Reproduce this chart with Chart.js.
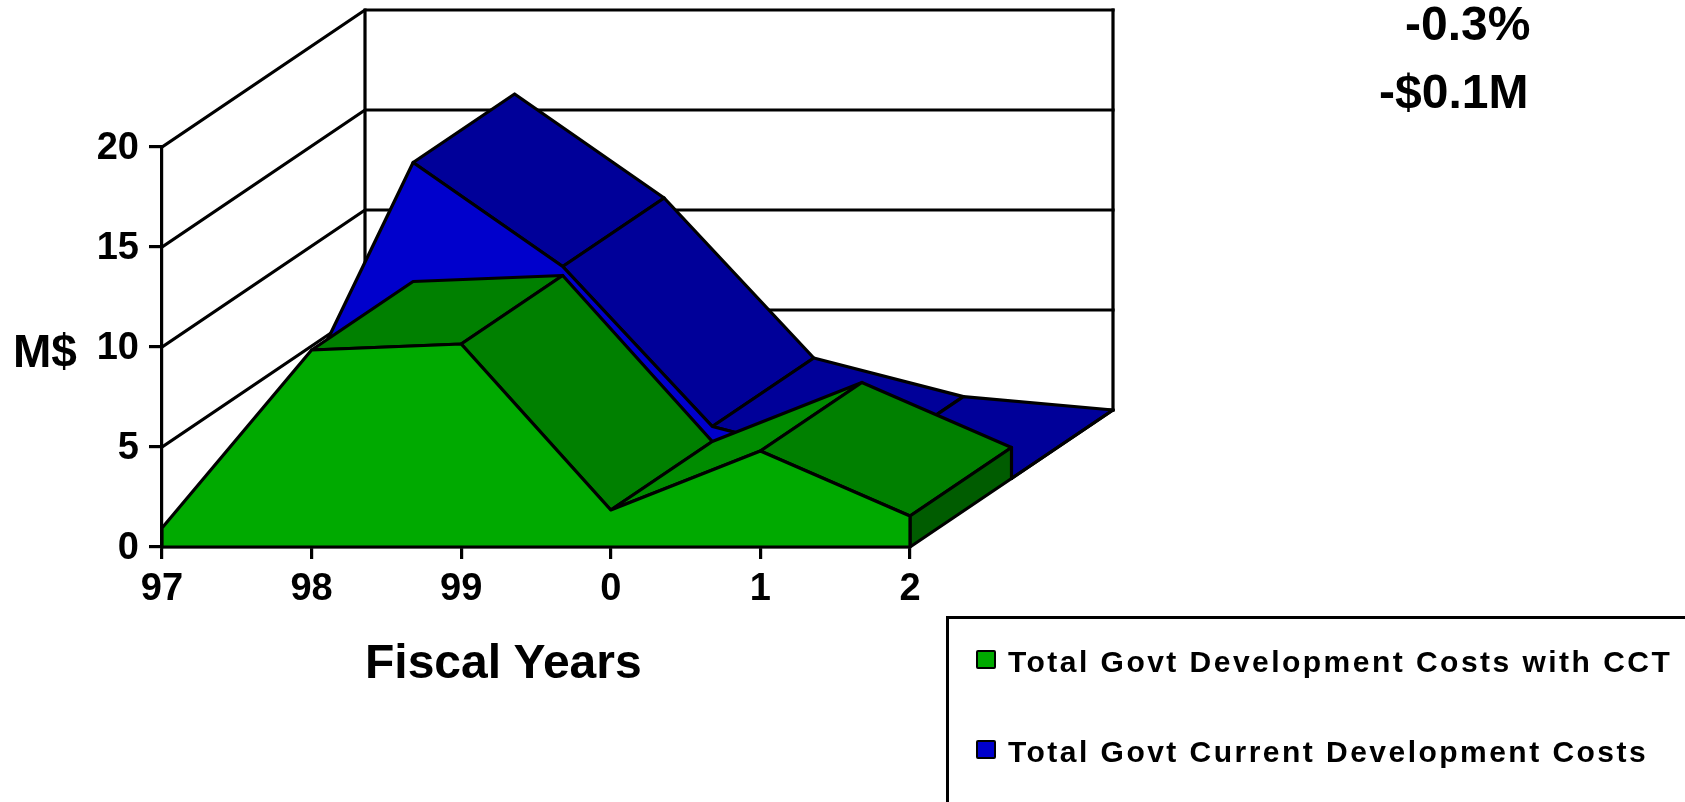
<!DOCTYPE html>
<html>
<head>
<meta charset="utf-8">
<title>Fiscal Years</title>
<script src="https://cdn.jsdelivr.net/npm/chart.js@4/dist/chart.umd.js"></script>
<style>
  html, body { margin: 0; background: #fff; }
  #page { position: relative; width: 1685px; height: 802px; overflow: hidden; font-family: "Liberation Sans", Arial, sans-serif; font-weight: bold; color: #000; }
  #page canvas { position: absolute; left: 0; top: 0; }
  .label { position: absolute; line-height: 1; white-space: nowrap; }
  #legend { position: absolute; left: 946px; top: 616px; width: 900px; height: 400px; border: 3px solid #000; box-sizing: border-box; }
  #legend .row { position: absolute; left: 27px; display: flex; align-items: center; font-size: 30px; line-height: 1; letter-spacing: 2.47px; white-space: nowrap; }
  #legend .swatch { width: 16px; height: 15px; border: 2.5px solid #000; border-radius: 2px; margin-right: 12px; transform: translateY(-3px); }
</style>
</head>
<body>
<div id="page">
  <canvas id="chart" width="1685" height="802"></canvas>
  <div class="label" style="left:13px;top:328px;font-size:46px">M$</div>
  <div class="label" style="left:365px;top:638px;font-size:48px">Fiscal Years</div>
  <div class="label" style="left:1405px;top:0px;font-size:48px">-0.3%</div>
  <div class="label" style="left:1379px;top:68px;font-size:48px">-$0.1M</div>
  <div id="legend"></div>
</div>
<script>
const years = ['97', '98', '99', '0', '1', '2'];
const cctCosts = [0.95, 9.85, 10.15, 1.85, 4.8, 1.55];
const currentCosts = [0.3, 15.8, 10.6, 2.6, 0.67, 0];
const yTicks = [0, 5, 10, 15, 20];

// how far the back of the box sits from the front plane, in pixels
const depthX = 203;
const depthY = 137;
const lineW = 3.2;

function polygon(ctx, pts, fill) {
  ctx.beginPath();
  pts.forEach((p, i) => i ? ctx.lineTo(p[0], p[1]) : ctx.moveTo(p[0], p[1]));
  ctx.closePath();
  ctx.fillStyle = fill;
  ctx.fill();
  ctx.stroke();
}

// line controller that draws the series as a slab of the 3D area chart
class Area3DController extends Chart.LineController {
  draw() {
    const ds = this.getDataset();
    const ctx = this.chart.ctx;
    const pts = this.getMeta().data;
    const base = this.getMeta().yScale.getPixelForValue(0);
    const at = (p, d, y) => [p.x + depthX * d, (y === undefined ? p.y : y) - depthY * d];

    ctx.save();
    ctx.strokeStyle = '#000';
    ctx.lineWidth = lineW;
    ctx.lineJoin = 'round';

    // top ribbons, skipped when a steep rise faces away from the viewer
    for (let i = 0; i < pts.length - 1; i++) {
      const ex = pts[i + 1].x - pts[i].x;
      const ey = pts[i + 1].y - pts[i].y;
      if (-ex * depthY * ds.depthSpan - ey * depthX * ds.depthSpan > 0) continue;
      const color = ey < -20 ? ds.riseColor : ds.topColor;
      polygon(ctx, [
        at(pts[i], ds.depthStart),
        at(pts[i + 1], ds.depthStart),
        at(pts[i + 1], ds.depthStart + ds.depthSpan),
        at(pts[i], ds.depthStart + ds.depthSpan)
      ], color);
    }

    // end cap
    const last = pts[pts.length - 1];
    polygon(ctx, [
      at(last, ds.depthStart),
      at(last, ds.depthStart + ds.depthSpan),
      at(last, ds.depthStart + ds.depthSpan, base),
      at(last, ds.depthStart, base)
    ], ds.sideColor);

    // front face
    const face = pts.map(p => at(p, ds.depthStart));
    face.push(at(last, ds.depthStart, base), at(pts[0], ds.depthStart, base));
    polygon(ctx, face, ds.backgroundColor);
    ctx.restore();
  }
}
Area3DController.id = 'area3d';
Area3DController.defaults = Chart.LineController.defaults;
Chart.register(Area3DController);

// side wall and back wall behind the series
const wallsPlugin = {
  id: 'walls',
  beforeDatasetsDraw(chart) {
    const { ctx, chartArea, scales } = chart;
    const backLeft = chartArea.left + depthX;
    const backRight = chartArea.right + depthX;
    ctx.save();
    ctx.strokeStyle = '#000';
    ctx.lineWidth = lineW;
    ctx.lineCap = 'square';
    yTicks.forEach(v => {
      const y = scales.y.getPixelForValue(v);
      ctx.beginPath();
      ctx.moveTo(chartArea.left, y);
      ctx.lineTo(backLeft, y - depthY);
      ctx.lineTo(backRight, y - depthY);
      ctx.stroke();
    });
    const top = scales.y.getPixelForValue(20) - depthY;
    const bottom = scales.y.getPixelForValue(0) - depthY;
    ctx.beginPath();
    ctx.moveTo(backLeft, bottom);
    ctx.lineTo(backLeft, top);
    ctx.moveTo(backRight, top);
    ctx.lineTo(backRight, bottom);
    ctx.stroke();
    ctx.restore();
  }
};

const tickFont = { family: '"Liberation Sans", Arial, sans-serif', size: 38, weight: 'bold' };

const chart = new Chart(document.getElementById('chart'), {
  type: 'area3d',
  data: {
    labels: years,
    datasets: [
      {
        label: 'Total Govt Development Costs with CCT',
        data: cctCosts,
        backgroundColor: '#00aa00',
        topColor: '#008000',
        riseColor: '#008c00',
        sideColor: '#005c00',
        depthStart: 0,
        depthSpan: 0.5,
        pointRadius: 0,
        clip: false
      },
      {
        label: 'Total Govt Current Development Costs',
        data: currentCosts,
        backgroundColor: '#0000cc',
        topColor: '#000099',
        riseColor: '#000099',
        sideColor: '#000099',
        depthStart: 0.5,
        depthSpan: 0.5,
        pointRadius: 0,
        clip: false
      }
    ]
  },
  options: {
    responsive: false,
    animation: false,
    layout: { padding: { top: 147, right: 775, bottom: 0, left: 0 } },
    plugins: { legend: { display: false }, tooltip: { enabled: false } },
    scales: {
      x: {
        type: 'category',
        offset: false,
        z: 1,
        afterFit: s => { s.height = 255; },
        grid: { drawOnChartArea: false, color: '#000', lineWidth: lineW, tickLength: 12, tickColor: '#000' },
        border: { color: '#000', width: lineW },
        ticks: { color: '#000', font: tickFont, padding: 8, maxRotation: 0, autoSkip: false }
      },
      y: {
        type: 'linear',
        min: 0,
        max: 20,
        z: 1,
        afterFit: s => { s.width = 162; },
        afterBuildTicks: s => { s.ticks = yTicks.map(v => ({ value: v })); },
        grid: { drawOnChartArea: false, color: '#000', lineWidth: lineW, tickLength: 13, tickColor: '#000' },
        border: { color: '#000', width: lineW },
        ticks: { color: '#000', font: tickFont, padding: 10, labelOffset: 2 }
      }
    }
  },
  plugins: [wallsPlugin]
});

// legend box, cut off by the page edge like the reference
const legend = document.getElementById('legend');
chart.data.datasets.forEach((ds, i) => {
  const row = document.createElement('div');
  row.className = 'row';
  row.style.top = (28 + i * 90) + 'px';
  const swatch = document.createElement('span');
  swatch.className = 'swatch';
  swatch.style.background = ds.backgroundColor;
  row.appendChild(swatch);
  row.appendChild(document.createTextNode(ds.label));
  legend.appendChild(row);
});
</script>
</body>
</html>
